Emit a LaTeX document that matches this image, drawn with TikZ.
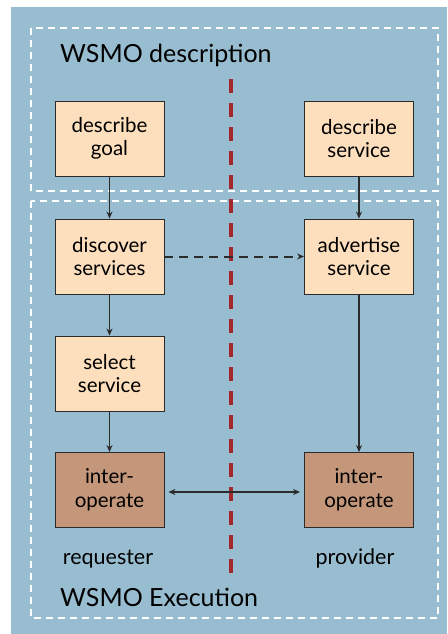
\documentclass[tikz,border=0pt]{standalone}
\usepackage{fontspec}
\setmainfont{Lato}
\usetikzlibrary{arrows.meta}
\definecolor{panel}{HTML}{98BDD0}
\definecolor{stepfill}{HTML}{FDDFBE}
\definecolor{opfill}{HTML}{C4977B}
\definecolor{divider}{HTML}{A3282C}
\definecolor{ink}{HTML}{2B2B2B}
\tikzset{
  x=1pt, y=-1pt,
  stepbox/.style={draw=ink, line width=0.9pt, fill=stepfill, minimum width=109pt,
    minimum height=75pt, align=center, font=\fontsize{20.5}{23.5}\selectfont, inner sep=0pt},
  opbox/.style={stepbox, fill=opfill},
  frame/.style={draw=white, line width=2pt, dash pattern=on 7pt off 5pt},
  flow/.style={draw=ink, line width=1.1pt, -{Stealth[length=7pt,width=6pt]}},
  title/.style={font=\fontsize{25}{28}\selectfont, anchor=base west, inner sep=0pt},
  role/.style={font=\fontsize{21.5}{24}\selectfont, anchor=base, inner sep=0pt},
}
\begin{document}
\begin{tikzpicture}
  \useasboundingbox (0,0) rectangle (447,634);
  \fill[panel] (11,7) rectangle (447,634);
  % the two phase frames
  \draw[frame] (31,28) rectangle (438,191);
  \draw[frame] (31,201) rectangle (438,618);
  % requester / provider divider
  \draw[divider, line width=4pt, dash pattern=on 14pt off 10pt] (231,79) -- (231,573);
  % titles
  \node[title] (tdesc) at (60,63) {WSMO description};
  \node[title] (texec) at (60,606) {WSMO Execution};
  % steps
  \node[stepbox] (dg) at (109.5,138.5) {describe\\goal};
  \node[stepbox] (ds) at (359,138.5) {describe\\service};
  \node[stepbox] (disc) at (109.5,256.5) {discover\\services};
  \node[stepbox] (adv) at (359,256.5) {advertise\\service};
  \node[stepbox] (sel) at (109.5,373.5) {select\\service};
  \node[opbox] (iol) at (109.5,490) {inter-\\operate};
  \node[opbox] (ior) at (359,490) {inter-\\operate};
  \node[role] (req) at (108,564) {requester};
  \node[role] (prov) at (355,564) {provider};
  % connectors
  \draw[flow] (dg) -- (disc);
  \draw[flow] (ds) -- (adv);
  \draw[flow] (disc) -- (sel);
  \draw[flow] (sel) -- (iol);
  \draw[flow] (adv) -- (ior);
  \draw[flow, dash pattern=on 9pt off 6pt, line width=2pt] (disc) -- (adv);
  \draw[flow, {Stealth[length=7pt,width=6pt]}-{Stealth[length=7pt,width=6pt]}, shorten <=4pt, shorten >=4pt] (iol.east) ++(0,2) coordinate (a) (ior.west) ++(0,2) coordinate (b) (a) -- (b);
\end{tikzpicture}
\end{document}
